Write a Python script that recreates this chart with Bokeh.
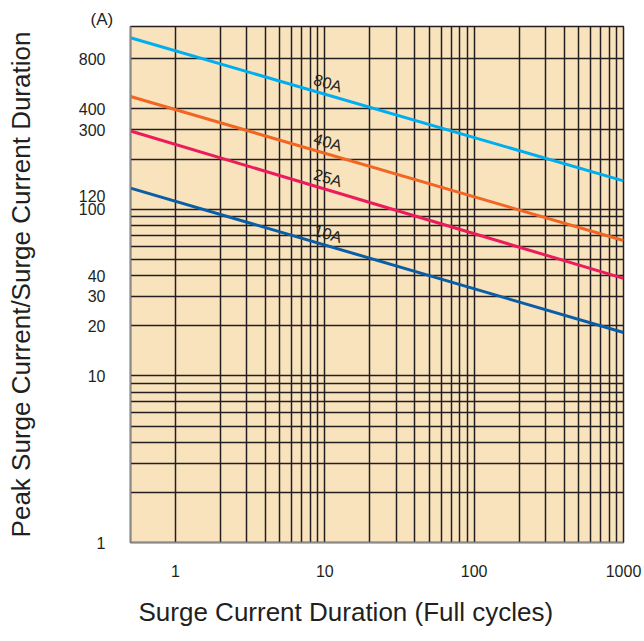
import math
from bokeh.plotting import figure
from bokeh.models import FixedTicker, PrintfTickFormatter, Title
from bokeh.core.properties import value
from bokeh.embed import file_html
from bokeh.resources import INLINE

# ---- data ----
duration_ends = [0.5, 1000]          # full cycles at the left / right edge
series_names = ["80A", "40A", "25A", "10A"]
peak_80a = [1070, 148]
peak_40a = [475, 65]
peak_25a = [295, 38.5]
peak_10a = [134, 18.2]
series_values = [peak_80a, peak_40a, peak_25a, peak_10a]
series_colors = ["#00AEEF", "#F26522", "#EC1B5C", "#0A5DA6"]

x_tick_values = [1, 10, 100, 1000]
y_tick_values = [1, 10, 20, 30, 40, 100, 120, 300, 400, 800]
x_grid_values = [k * 10 ** e for e in range(0, 3) for k in range(1, 10)] + [1000]
y_grid_values = [k * 10 ** e for e in range(0, 2) for k in range(1, 10)] + [100, 200, 300, 400, 800, 1250]
label_at_cycles = 10
unit_text = "(A)"
x_title = "Surge Current Duration (Full cycles)"
y_title = "Peak Surge Current/Surge Current Duration"

X_RANGE = (0.5, 1000)
Y_RANGE = (1, 1250)
FONT = "Liberation Sans"
INK = "#231f20"

p = figure(width=644, height=641, x_axis_type="log", y_axis_type="log",
           x_range=X_RANGE, y_range=Y_RANGE, output_backend="svg",
           toolbar_location=None,
           min_border_left=130, min_border_right=21,
           min_border_top=26, min_border_bottom=98)

p.background_fill_color = "#F9E3BC"
p.border_fill_color = "white"
p.outline_line_color = INK
p.outline_line_width = 1.5

# unit marker above the value axis
p.title.text = unit_text
p.title.align = "left"
p.title.offset = -40
p.title.standoff = -4
p.title.text_font = FONT
p.title.text_font_size = "17px"
p.title.text_font_style = "normal"
p.title.text_color = INK

for g, vals in ((p.xgrid, x_grid_values), (p.ygrid, y_grid_values)):
    g.ticker = FixedTicker(ticks=vals)
    g.grid_line_color = INK
    g.grid_line_width = 1.5
    g.grid_line_alpha = 1.0

p.xaxis.ticker = FixedTicker(ticks=x_tick_values)
p.yaxis.ticker = FixedTicker(ticks=y_tick_values)
for ax in (p.xaxis, p.yaxis):
    ax.formatter = PrintfTickFormatter(format="%d")
    ax.major_tick_line_color = None
    ax.minor_tick_line_color = None
    ax.axis_line_color = "#8a8a8a"
    ax.axis_line_width = 1.5
    ax.major_label_text_font = FONT
    ax.major_label_text_font_size = "16px"
    ax.major_label_text_color = INK
    ax.axis_label_text_font = FONT
    ax.axis_label_text_font_size = "26px"
    ax.axis_label_text_font_style = "normal"
    ax.axis_label_text_color = INK
p.xaxis.major_label_standoff = 16
p.yaxis.major_label_standoff = 19

# value-axis title as the axis label
p.yaxis.axis_label = y_title
p.yaxis.axis_label_standoff = 40

# duration-axis title, left-aligned as in the reference
tx = Title(text=x_title, align="left", offset=8, standoff=30,
           text_font=FONT, text_font_size="26px", text_font_style="normal",
           text_color=INK)
p.add_layout(tx, "below")

lx0, lx1 = math.log10(duration_ends[0]), math.log10(duration_ends[1])
for name, vals, color in zip(series_names, series_values, series_colors):
    p.line(duration_ends, vals, line_color=color, line_width=3)
    t = (math.log10(label_at_cycles) - lx0) / (lx1 - lx0)
    ly = 10 ** (math.log10(vals[0]) + t * (math.log10(vals[1]) - math.log10(vals[0])))
    p.text(x=[label_at_cycles], y=[ly], text=[name], angle=-0.285,
           text_align="center", text_baseline="middle",
           x_offset=3, y_offset=-11,
           text_font=value(FONT), text_font_size="16px", text_color=INK)

open("out.html", "w").write(file_html(p, INLINE))
